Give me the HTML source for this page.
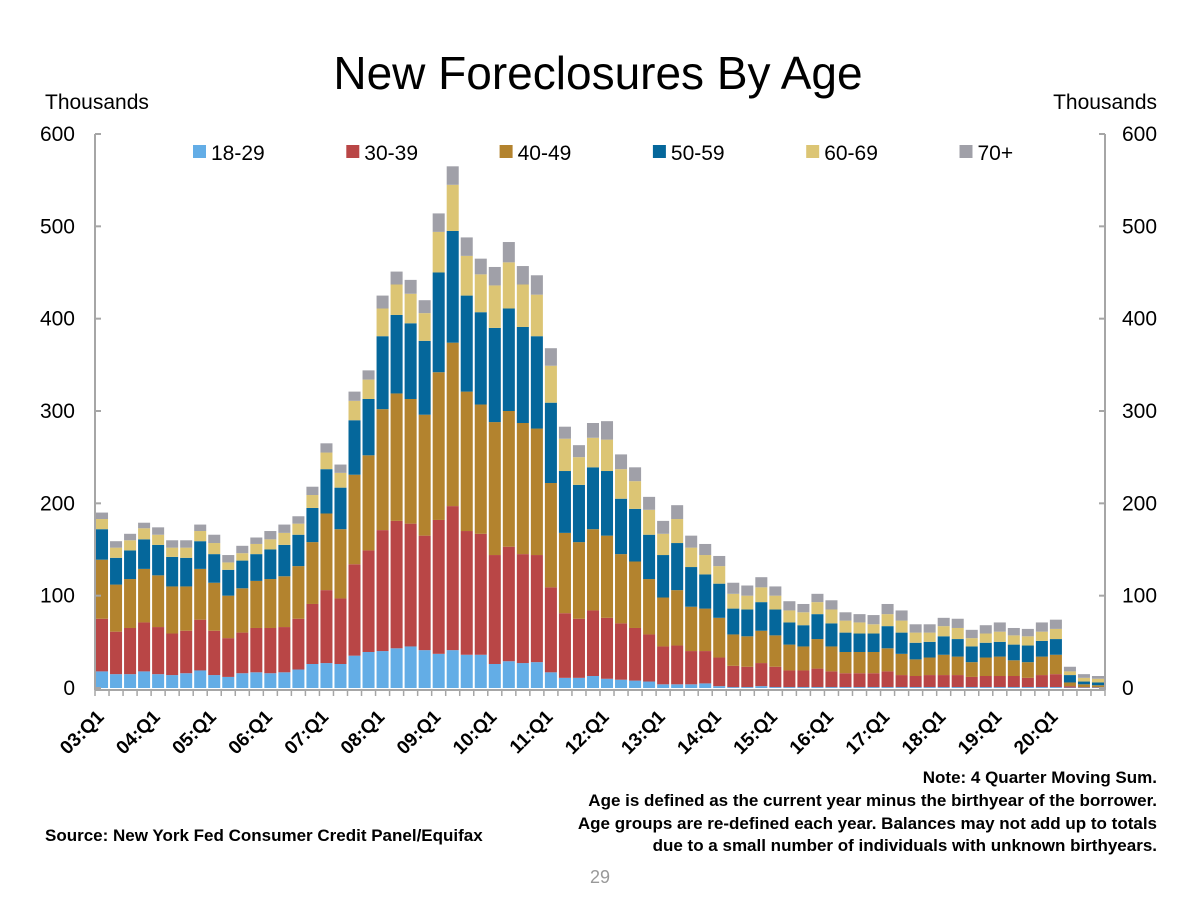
<!DOCTYPE html>
<html><head><meta charset="utf-8"><style>
body{margin:0;background:#fff;}
svg text{font-family:"Liberation Sans",Arial,sans-serif;}
</style></head><body>
<svg id="chart" width="1200" height="900" viewBox="0 0 1200 900">
<rect width="1200" height="900" fill="#fff"/>
<text x="598" y="89" font-size="46" text-anchor="middle">New Foreclosures By Age</text>
<text x="45" y="109" font-size="21">Thousands</text>
<text x="1157" y="109" font-size="21" text-anchor="end">Thousands</text>
<g id="bars"></g>
<g id="axes"></g>
<g id="legend"></g>
<text x="1157" y="783" font-size="17" font-weight="bold" text-anchor="end">Note: 4 Quarter Moving Sum.</text>
<text x="1157" y="806" font-size="17" font-weight="bold" text-anchor="end">Age is defined as the current year minus the birthyear of the borrower.</text>
<text x="1157" y="829" font-size="17" font-weight="bold" text-anchor="end">Age groups are re-defined each year. Balances may not add up to totals</text>
<text x="1157" y="851" font-size="17" font-weight="bold" text-anchor="end">due to a small number of individuals with unknown birthyears.</text>
<text x="45" y="841" font-size="17" font-weight="bold">Source: New York Fed Consumer Credit Panel/Equifax</text>
<text x="600" y="883" font-size="18" fill="#999" text-anchor="middle">29</text>
</svg>
<script>
const seriesNames = ["18-29","30-39","40-49","50-59","60-69","70+"];
const yTicks = [0,100,200,300,400,500,600];
const age18_29 = [18,15,15,18,15,14,16,19,14,12,16,17,16,17,20,26,27,26,35,39,40,43,45,41,37,41,36,36,26,29,27,28,17,11,11,13,10,9,8,7,4,4,4,5,2,1,1,2,1,1,1,1,1,1,1,1,1,1,1,1,1,1,1,1,1,1,1,1,1,0.5,0.5,0.5];
const age30_39 = [57,46,50,53,51,45,46,55,48,42,44,48,49,49,55,65,79,71,99,110,131,138,133,124,145,156,134,131,118,124,118,116,92,70,64,71,66,61,57,51,41,42,36,35,31,23,22,25,22,18,18,20,17,15,15,15,17,13,12,13,13,13,11,12,12,12,10,13,14,1.5,0.5,0.5];
const age40_49 = [64,51,53,58,56,51,48,55,52,46,48,51,53,55,57,67,83,75,97,103,131,138,135,131,160,177,151,140,144,147,142,137,113,87,83,88,89,75,72,60,53,60,48,46,43,34,33,35,34,28,26,32,27,23,23,23,25,23,18,19,22,20,16,20,21,17,17,20,21,4,3,2];
const age50_59 = [33,29,31,32,33,32,31,30,31,28,30,29,32,34,34,37,48,45,59,61,79,85,82,80,108,121,104,100,102,111,104,100,87,67,62,67,70,60,57,48,46,51,43,37,37,28,29,31,28,24,23,27,25,21,20,20,24,23,18,17,20,19,17,16,16,17,18,17,17,8,3,3];
const age60_69 = [11,11,11,12,11,10,11,11,12,8,8,11,11,13,12,14,18,16,21,21,30,33,32,30,44,50,43,41,46,50,46,45,40,35,30,32,34,32,30,27,23,26,21,21,19,16,15,16,15,13,14,13,15,13,12,10,13,13,11,10,11,12,9,10,11,10,10,10,11,4,4,4];
const age70plus = [7,7,7,6,8,8,8,7,9,8,8,7,9,9,8,9,10,9,10,10,14,14,15,14,20,20,20,17,20,22,20,21,19,13,13,16,20,16,15,14,14,15,13,12,11,12,11,11,10,10,9,9,10,9,9,10,11,11,9,9,9,10,9,9,10,8,8,10,10,5,4,3];
const xLabels = ["03:Q1","04:Q1","05:Q1","06:Q1","07:Q1","08:Q1","09:Q1","10:Q1","11:Q1","12:Q1","13:Q1","14:Q1","15:Q1","16:Q1","17:Q1","18:Q1","19:Q1","20:Q1"];

const series = [age18_29,age30_39,age40_49,age50_59,age60_69,age70plus];
const colors = ["#63ADE6","#B94646","#B3832E","#05679B","#DCC574","#A0A0A8"];
const NS="http://www.w3.org/2000/svg";
const X0=95, X1=1105, Y0=688, Y600=134;
const n = age18_29.length;
const step=(X1-X0)/n;
function y(v){return Y0-(v/600)*(Y0-Y600);}
function xL(i){return X0+i*step;}
function mk(tag,attrs,parent){const e=document.createElementNS(NS,tag);for(const k in attrs)e.setAttribute(k,attrs[k]);parent.appendChild(e);return e;}
const bars=document.getElementById('bars');
for(let i=0;i<n;i++){
  let cum=0;
  for(let s=0;s<series.length;s++){
    const v=series[s][i];
    const r=mk('rect',{x:(xL(i)+1).toFixed(2),y:y(cum+v).toFixed(2),width:(step-2).toFixed(2),height:(y(cum)-y(cum+v)).toFixed(2),fill:colors[s]},bars);
    
    
    cum+=v;
  }
}
const axes=document.getElementById('axes');
const g='#A6A6A6';
let l=mk('line',{x1:X0,y1:Y600,x2:X0,y2:Y0+2,stroke:g,'stroke-width':2},axes);

l=mk('line',{x1:X1,y1:Y600,x2:X1,y2:Y0+2,stroke:g,'stroke-width':2},axes);

l=mk('line',{x1:X0,y1:Y0+2,x2:X1,y2:Y0+2,stroke:g,'stroke-width':2},axes);

yTicks.forEach(t=>{
  const yy=y(t);
  mk('line',{x1:X0,y1:yy,x2:X0+6,y2:yy,stroke:g,'stroke-width':2},axes);
  mk('line',{x1:X1-6,y1:yy,x2:X1,y2:yy,stroke:g,'stroke-width':2},axes);
  let tx=mk('text',{x:75,y:yy+7,'font-size':21,'text-anchor':'end'},axes);tx.textContent=t;
  
  tx=mk('text',{x:1122,y:yy+7,'font-size':21},axes);tx.textContent=t;
  
});
for(let i=0;i<=n;i++){mk('line',{x1:xL(i),y1:Y0+2,x2:xL(i),y2:Y0+8,stroke:g,'stroke-width':1.5},axes);}
xLabels.forEach((lab,k)=>{
  const cx=xL(k*4)+step/2+3, cy=Y0+30;
  const tx=mk('text',{x:cx,y:cy,'font-size':19,'font-weight':'bold','text-anchor':'end',transform:`rotate(-45 ${cx} ${cy})`},axes);
  tx.textContent=lab;
  
  
});
const leg=document.getElementById('legend');
seriesNames.forEach((nm,s)=>{
  const lx=193+s*153.3;
  const gr=mk('g',{},leg);
  
  
  mk('rect',{x:lx,y:145,width:13,height:13,fill:colors[s]},gr);
  const tx=mk('text',{x:lx+18,y:160,'font-size':21},gr);tx.textContent=nm;
});
</script>
</body></html>
